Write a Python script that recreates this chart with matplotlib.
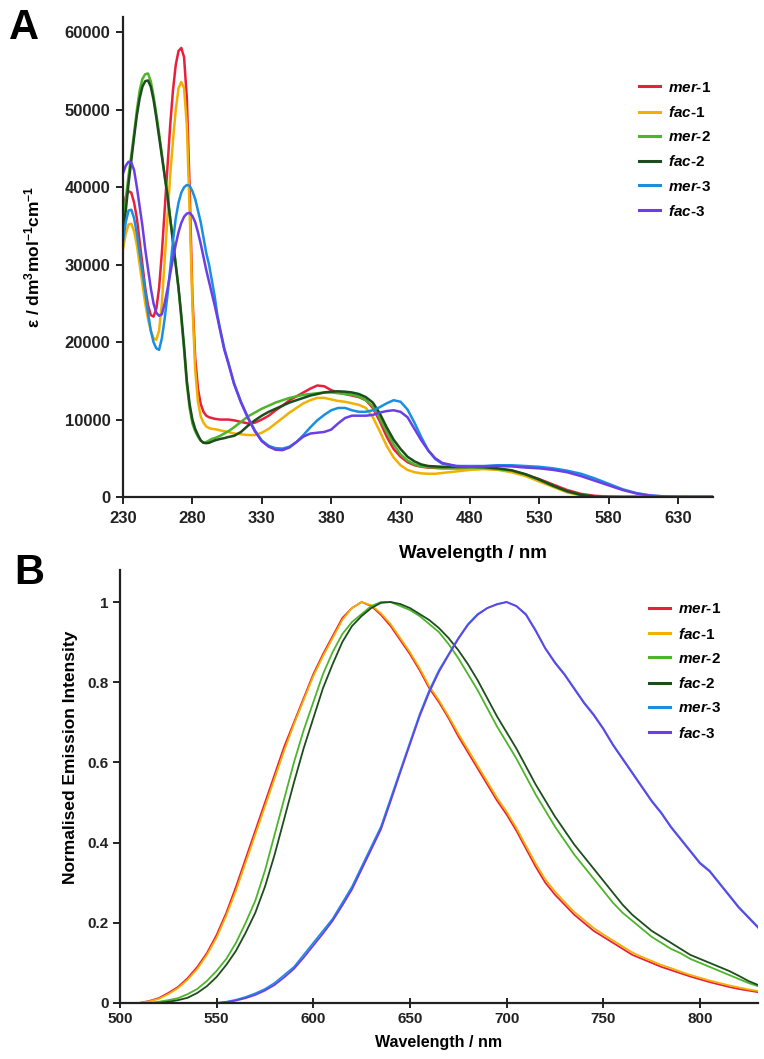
import matplotlib
matplotlib.use("Agg")
import matplotlib.pyplot as plt

plt.rcParams['font.family'] = ['Liberation Sans', 'DejaVu Sans']
plt.rcParams['mathtext.fontset'] = 'custom'
plt.rcParams['mathtext.rm'] = 'Liberation Sans:bold'
plt.rcParams['mathtext.it'] = 'Liberation Sans:bold:italic'
plt.rcParams['mathtext.bf'] = 'Liberation Sans:bold'

names = ['mer', 'fac', 'mer', 'fac', 'mer', 'fac']
numbers = ['1', '1', '2', '2', '3', '3']
colors = ['#e8203c', '#f2b000', '#4cb52a', '#1d4d1d', '#1a8fe0', '#6a3fe8']

# ---------------- Panel A: absorption ----------------
abs_wl = [230, 232, 234, 236, 238, 240, 242, 244, 246, 248, 250, 252, 254, 256, 258,
          260, 262, 264, 266, 268, 270, 272, 274, 276, 278, 280, 282, 284, 286, 288,
          290, 292, 294, 296, 298, 300, 303, 306, 310, 315, 320, 325, 330, 335, 340,
          345, 350, 355, 360, 365, 370, 375, 380, 385, 390, 395, 400, 405, 410, 415,
          420, 425, 430, 435, 440, 445, 450, 455, 460, 470, 480, 490, 500, 510, 520,
          530, 540, 550, 560, 570, 580, 590, 600, 610, 620, 630, 640, 655]

abs_mer1 = [37000, 38800, 39500, 39300, 38000, 36000, 33000, 30000, 27000, 24800, 23500, 23300, 24300, 27000, 31500,
            37000, 42500, 48000, 52500, 55800, 57600, 58000, 56800, 51500, 40000, 26000, 18000, 14000, 12000, 11000,
            10500, 10300, 10200, 10100, 10050, 10000, 10000, 10000, 9900, 9700, 9500, 9600, 10000, 10500, 11200,
            11800, 12500, 13000, 13500, 14000, 14400, 14300, 13800, 13500, 13300, 13100, 12900, 12500, 11500, 9800,
            7800, 6200, 5200, 4500, 4100, 3900, 3800, 3750, 3700, 3700, 3700, 3700, 3600, 3300, 2900,
            2300, 1600, 900, 400, 150, 50, 0, 0, 0, 0, 0, 0, 0]

abs_fac1 = [32000, 34000, 35200, 35300, 34300, 32500, 30000, 27500, 25000, 23000, 21500, 20500, 20300, 21500, 25000,
            30500, 36000, 41500, 46000, 50000, 52800, 53600, 52800, 48000, 37000, 25000, 16500, 12300, 10400, 9600,
            9100, 8900, 8800, 8750, 8700, 8600, 8500, 8400, 8200, 8100, 8000, 8000, 8300, 8800, 9500,
            10200, 10900, 11500, 12100, 12500, 12800, 12800, 12600, 12400, 12300, 12100, 11900, 11500, 10300, 8500,
            6600, 5100, 4100, 3500, 3200, 3050, 3000, 3000, 3100, 3300, 3500, 3600, 3500, 3200, 2700,
            2000, 1300, 600, 200, 50, 0, 0, 0, 0, 0, 0, 0, 0]

abs_mer2 = [35000, 38500, 41500, 44200, 47000, 50000, 52500, 54000, 54600, 54700, 53700, 51800, 49500, 47000, 44300,
            41500, 39000, 36000, 33000, 30000, 27000, 23000, 19000, 14500, 11500, 9500, 8500, 7800, 7300, 7000,
            7100, 7300, 7500, 7600, 7750, 7900, 8200, 8500, 9000, 9700, 10400, 10900, 11400, 11800, 12200,
            12500, 12800, 13000, 13200, 13300, 13400, 13500, 13500, 13400, 13300, 13200, 13000, 12500, 11700, 10200,
            8400, 6800, 5500, 4700, 4200, 3950, 3850, 3800, 3800, 3800, 3800, 3750, 3600, 3400, 2900,
            2200, 1400, 700, 250, 50, 0, 0, 0, 0, 0, 0, 0, 0]

abs_fac2 = [34000, 37000, 40500, 43500, 46500, 49300, 51500, 53000, 53700, 53800, 53000, 51300, 49000, 46500, 44000,
            41500, 39000, 36000, 33000, 30000, 27000, 23500, 19500, 15000, 12000, 10000, 8800, 8000, 7300, 7000,
            6950, 7000, 7150, 7300, 7400, 7500, 7600, 7750, 7900, 8400, 9200, 9900, 10500, 11000, 11400,
            11800, 12200, 12500, 12800, 13100, 13300, 13500, 13600, 13650, 13600, 13500, 13300, 12900, 12200, 10800,
            9000, 7400, 6200, 5200, 4600, 4200, 4000, 3950, 3900, 3900, 3900, 3850, 3700, 3450, 2950,
            2250, 1450, 750, 280, 60, 0, 0, 0, 0, 0, 0, 0, 0]

abs_mer3 = [33000, 35500, 37000, 37100, 36000, 34000, 31500, 29000, 26500, 23800, 21500, 20000, 19200, 19000, 20500,
            23000, 26000, 29500, 33000, 36000, 38000, 39300, 40000, 40300, 40200, 39500, 38500, 37000, 35500, 33500,
            31500, 30000, 28000, 26000, 23500, 21700, 19200, 17300, 14700, 12300, 10300, 8600, 7300, 6600, 6300,
            6250, 6500, 7100, 8000, 9000, 9900, 10600, 11200, 11500, 11500, 11200, 11000, 11000, 11200, 11600,
            12100, 12500, 12300, 11300, 9600, 7700, 6000, 4900, 4300, 4000, 4000, 4000, 4100, 4100, 4000,
            3900, 3700, 3400, 3000, 2400, 1700, 1000, 500, 200, 80, 20, 0, 0]

abs_fac3 = [41800, 42800, 43300, 43200, 42200, 40000, 37500, 35000, 32000, 29500, 27000, 25000, 23800, 23400, 23600,
            25000, 26800, 28800, 30800, 32600, 34200, 35400, 36200, 36600, 36700, 36300, 35500, 34200, 32700, 31000,
            29300, 27800, 26300, 24800, 23200, 21500, 19000, 17200, 14600, 12200, 10200, 8500, 7200, 6500, 6100,
            6050, 6400, 7100, 7800, 8200, 8300, 8400, 8700, 9500, 10200, 10500, 10500, 10500, 10600, 10900,
            11100, 11200, 11000, 10300, 8800, 7300, 6000, 5000, 4400, 4000, 3900, 3950, 4000, 3950, 3800,
            3700, 3500, 3200, 2700, 2100, 1500, 900, 450, 180, 60, 10, 0, 0]

abs_series = [abs_mer1, abs_fac1, abs_mer2, abs_fac2, abs_mer3, abs_fac3]

# ---------------- Panel B: emission ----------------
em_wl = list(range(500, 835, 5))

em_mer1 = [0, 0, 0, 0.005, 0.012, 0.025, 0.04, 0.062, 0.09, 0.125, 0.17, 0.225, 0.29, 0.36, 0.43, 0.50,
           0.57, 0.64, 0.70, 0.76, 0.82, 0.87, 0.915, 0.96, 0.985, 1.0, 0.99, 0.968, 0.94, 0.905, 0.87,
           0.83, 0.785, 0.75, 0.71, 0.665, 0.625, 0.585, 0.545, 0.505, 0.47, 0.43, 0.385, 0.34, 0.30, 0.27,
           0.245, 0.22, 0.20, 0.18, 0.165, 0.15, 0.135, 0.12, 0.11, 0.10, 0.09, 0.082, 0.074, 0.066, 0.059,
           0.052, 0.046, 0.04, 0.035, 0.031, 0.027]

em_fac1 = [0, 0, 0, 0.004, 0.01, 0.022, 0.037, 0.058, 0.085, 0.12, 0.163, 0.218, 0.28, 0.35, 0.42, 0.49,
           0.56, 0.63, 0.695, 0.755, 0.815, 0.865, 0.91, 0.955, 0.985, 1.0, 0.992, 0.972, 0.945, 0.91, 0.875,
           0.835, 0.79, 0.755, 0.715, 0.672, 0.632, 0.592, 0.552, 0.512, 0.477, 0.437, 0.392, 0.348, 0.308, 0.278,
           0.252, 0.227, 0.207, 0.187, 0.171, 0.156, 0.141, 0.126, 0.115, 0.105, 0.095, 0.087, 0.078, 0.07, 0.063,
           0.056, 0.05, 0.044, 0.039, 0.034, 0.03]

em_mer2 = [0, 0, 0, 0, 0.003, 0.007, 0.012, 0.022, 0.035, 0.055, 0.08, 0.11, 0.15, 0.20, 0.255, 0.33,
           0.42, 0.51, 0.60, 0.68, 0.75, 0.82, 0.875, 0.92, 0.95, 0.97, 0.99, 1.0, 1.0, 0.99, 0.98,
           0.965, 0.945, 0.925, 0.895, 0.86, 0.82, 0.78, 0.735, 0.69, 0.65, 0.61, 0.565, 0.52, 0.48, 0.44,
           0.405, 0.37, 0.34, 0.31, 0.28, 0.25, 0.225, 0.205, 0.185, 0.165, 0.15, 0.135, 0.124, 0.11, 0.10,
           0.09, 0.08, 0.07, 0.06, 0.05, 0.042]

em_fac2 = [0, 0, 0, 0, 0, 0.003, 0.007, 0.013, 0.025, 0.042, 0.065, 0.095, 0.13, 0.175, 0.225, 0.29,
           0.37, 0.46, 0.55, 0.635, 0.71, 0.785, 0.845, 0.90, 0.94, 0.965, 0.985, 0.998, 1.0, 0.995, 0.985,
           0.97, 0.955, 0.935, 0.91, 0.88, 0.845, 0.805, 0.76, 0.715, 0.675, 0.635, 0.59, 0.545, 0.505, 0.465,
           0.43, 0.395, 0.365, 0.335, 0.305, 0.275, 0.245, 0.22, 0.20, 0.18, 0.165, 0.15, 0.135, 0.12, 0.11,
           0.10, 0.09, 0.08, 0.068, 0.055, 0.045]

em_mer3 = [0, 0, 0, 0, 0, 0, 0, 0, 0, 0, 0, 0.003, 0.008, 0.015, 0.024, 0.035,
           0.05, 0.07, 0.09, 0.12, 0.15, 0.18, 0.21, 0.25, 0.29, 0.34, 0.39, 0.44, 0.51, 0.58, 0.65,
           0.72, 0.78, 0.83, 0.87, 0.91, 0.945, 0.97, 0.985, 0.995, 1.0, 0.99, 0.97, 0.93, 0.885, 0.85,
           0.82, 0.785, 0.75, 0.72, 0.685, 0.645, 0.61, 0.575, 0.54, 0.505, 0.475, 0.44, 0.41, 0.38, 0.35,
           0.33, 0.30, 0.27, 0.24, 0.215, 0.19]

em_fac3 = [0, 0, 0, 0, 0, 0, 0, 0, 0, 0, 0, 0.002, 0.006, 0.012, 0.02, 0.031,
           0.045, 0.064, 0.085, 0.113, 0.143, 0.173, 0.205, 0.243, 0.283, 0.333, 0.383, 0.433, 0.503, 0.575, 0.645,
           0.715, 0.775, 0.826, 0.868, 0.908, 0.943, 0.968, 0.985, 0.994, 1.0, 0.99, 0.968, 0.928, 0.884, 0.848,
           0.818, 0.783, 0.748, 0.718, 0.683, 0.643, 0.608, 0.573, 0.538, 0.503, 0.473, 0.438, 0.408, 0.378, 0.348,
           0.328, 0.298, 0.268, 0.238, 0.213, 0.188]

em_series = [em_mer1, em_fac1, em_mer2, em_fac2, em_mer3, em_fac3]

abs_xticks = [230, 280, 330, 380, 430, 480, 530, 580, 630]
abs_yticks = [0, 10000, 20000, 30000, 40000, 50000, 60000]
em_xticks = [500, 550, 600, 650, 700, 750, 800]
em_yticks = [0, 0.2, 0.4, 0.6, 0.8, 1]
em_yticklabels = ['0', '0.2', '0.4', '0.6', '0.8', '1']

labels = [r'$\mathit{%s}$-%s' % (n, k) for n, k in zip(names, numbers)]

fig = plt.figure(figsize=(7.64, 10.59), dpi=100)

def style(ax, size):
    for s in ['top', 'right']:
        ax.spines[s].set_visible(False)
    for s in ['left', 'bottom']:
        ax.spines[s].set_linewidth(1.6)
        ax.spines[s].set_color('#222222')
    for lab in ax.get_xticklabels() + ax.get_yticklabels():
        lab.set_fontweight('bold')
        lab.set_fontsize(size)
        lab.set_color('#222222')

# Panel A
axA = fig.add_axes([0.161, 0.5307, 0.772, 0.4533])
for ys, c, lab in zip(abs_series, colors, labels):
    axA.plot(abs_wl, ys, color=c, lw=1.8, label=lab)
axA.set_xlim(230, 655)
axA.set_ylim(0, 62000)
axA.set_xticks(abs_xticks)
axA.set_yticks(abs_yticks)
axA.tick_params(axis='x', direction='out', length=5, width=1.4, color='#222222', pad=5)
axA.tick_params(axis='y', direction='out', length=5, width=1.4, color='#222222', pad=4)
style(axA, 12)
axA.set_xlabel('Wavelength / nm', fontsize=13.5, fontweight='bold')
axA.xaxis.set_label_coords((473 - 123) / 590, -0.1)
axA.set_ylabel(r'ε / dm$^{3}$mol$^{-1}$cm$^{-1}$', fontsize=12.5, fontweight='bold')
axA.yaxis.set_label_coords(-0.136, 0.5)
legA = axA.legend(loc='upper left', bbox_to_anchor=(0.851, 0.896), frameon=False,
                  handlelength=1.37, handletextpad=0.52, labelspacing=0.67,
                  prop={'weight': 'bold', 'size': 11})
for line in legA.get_lines():
    line.set_linewidth(2.2)
fig.text(0.012, 0.992, 'A', fontsize=30, fontweight='bold', va='top', ha='left')

# Panel B
axB = fig.add_axes([0.157, 0.0529, 0.8351, 0.4089])
for ys, c, lab in zip(em_series, colors, labels):
    axB.plot(em_wl, ys, color=c, lw=1.3, label=lab)
axB.set_xlim(500, 830)
axB.set_ylim(0, 1.08)
axB.set_xticks(em_xticks)
axB.set_yticks(em_yticks)
axB.set_yticklabels(em_yticklabels)
axB.tick_params(axis='y', direction='out', length=5, width=1.4, color='#222222', pad=3)
axB.tick_params(axis='x', direction='inout', length=7, width=1.4, color='#222222', pad=3)
style(axB, 11)
axB.set_xlabel('Wavelength / nm', fontsize=11.5, fontweight='bold')
axB.xaxis.set_label_coords(0.5, -0.075)
axB.set_ylabel('Normalised Emission Intensity', fontsize=12.5, fontweight='bold')
axB.yaxis.set_label_coords(-0.066, 0.568)
legB = axB.legend(loc='upper left', bbox_to_anchor=(0.8075, 0.957), frameon=False,
                  handlelength=1.37, handletextpad=0.52, labelspacing=0.67,
                  prop={'weight': 'bold', 'size': 11})
for line in legB.get_lines():
    line.set_linewidth(2.2)
fig.text(0.018, 0.478, 'B', fontsize=30, fontweight='bold', va='top', ha='left')

fig.savefig('out.png', dpi=100, facecolor='white')
